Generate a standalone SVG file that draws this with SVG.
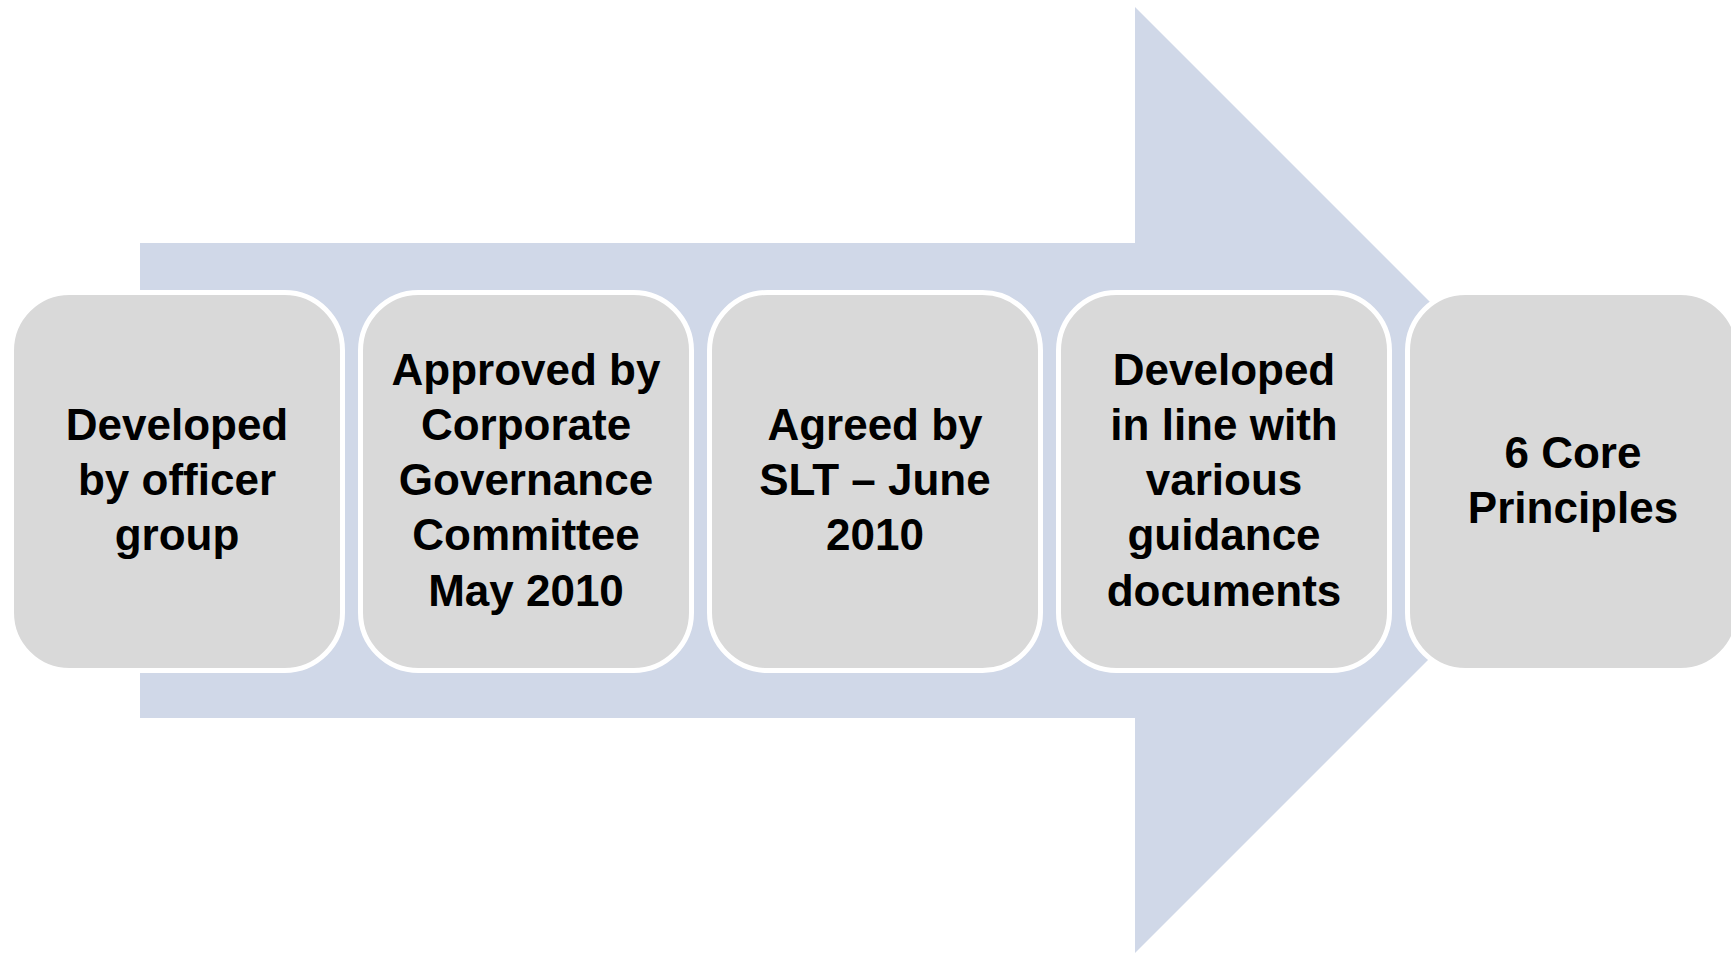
<svg xmlns="http://www.w3.org/2000/svg" width="1731" height="954" viewBox="0 0 1731 954">
<style>
.box{fill:#D9D9D9;stroke:#FFFFFF;stroke-width:5}
.lbl{font-family:"Liberation Sans",Arial,sans-serif;font-weight:bold;font-size:44px;fill:#000;text-anchor:middle}
</style>
<rect width="1731" height="954" fill="#FFFFFF"/>
<g id="arrow">
<polygon points="140,243 1135,243 1135,7 1608,480 1135,953 1135,718 140,718" fill="#D0D8E8"/>
</g>
<g id="connectors"></g>
<g id="node1">
<rect class="box" x="11.5" y="292.5" width="331" height="378" rx="58"/>
<text class="lbl"><tspan x="177" y="440">Developed</tspan><tspan x="177" y="495">by officer</tspan><tspan x="177" y="550">group</tspan></text>
</g>
<g id="node2">
<rect class="box" x="360.5" y="292.5" width="331" height="378" rx="58"/>
<text class="lbl"><tspan x="526" y="385">Approved by</tspan><tspan x="526" y="440">Corporate</tspan><tspan x="526" y="495">Governance</tspan><tspan x="526" y="550">Committee</tspan><tspan x="526" y="606">May 2010</tspan></text>
</g>
<g id="node3">
<rect class="box" x="709.5" y="292.5" width="331" height="378" rx="58"/>
<text class="lbl"><tspan x="875" y="440">Agreed by</tspan><tspan x="875" y="495">SLT – June</tspan><tspan x="875" y="550">2010</tspan></text>
</g>
<g id="node4">
<rect class="box" x="1058.5" y="292.5" width="331" height="378" rx="58"/>
<text class="lbl"><tspan x="1224" y="385">Developed</tspan><tspan x="1224" y="440">in line with</tspan><tspan x="1224" y="495">various</tspan><tspan x="1224" y="550">guidance</tspan><tspan x="1224" y="606">documents</tspan></text>
</g>
<g id="node5">
<rect class="box" x="1407.5" y="292.5" width="331" height="378" rx="58"/>
<text class="lbl"><tspan x="1573" y="468">6 Core</tspan><tspan x="1573" y="523">Principles</tspan></text>
</g>
</svg>
